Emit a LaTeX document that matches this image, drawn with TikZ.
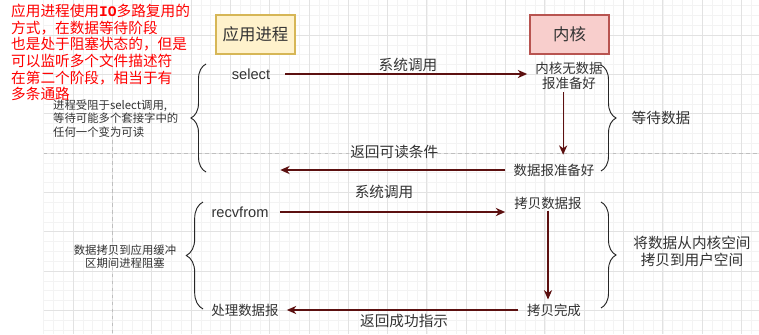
\documentclass[tikz,border=0pt]{standalone}
\usepackage{fontspec}
\setmainfont{Liberation Sans}
\newfontfamily\cjk{Noto Sans CJK SC}
\newfontfamily\monofnt{Liberation Mono}
\usetikzlibrary{arrows.meta,decorations.pathreplacing}
\definecolor{gridmin}{HTML}{F3F3F3}
\definecolor{gridmaj}{HTML}{E2E2E2}
\definecolor{arrowred}{HTML}{5C1010}
\definecolor{txtgray}{HTML}{333333}
\definecolor{appfill}{HTML}{FFF2CC}
\definecolor{appline}{HTML}{D6B656}
\definecolor{kernfill}{HTML}{F8CECC}
\definecolor{kernline}{HTML}{B85450}
\tikzset{
  box/.style={draw, line width=0.9pt, minimum width=2.37cm, minimum height=1.17cm,
    font=\cjk\fontsize{14}{16}\selectfont, text=txtgray},
  txt/.style={inner sep=0pt, text=txtgray, align=center, font=\cjk\fontsize{11.5}{12.75}\selectfont},
  big/.style={txt, font=\cjk\fontsize{12.5}{14.5}\selectfont},
  small/.style={txt, font=\cjk\fontsize{9.7}{11.5}\selectfont},
  call/.style={txt, font=\fontsize{12.5}{14}\selectfont},
  arr/.style={draw=arrowred, line width=1pt, -{Stealth[length=8pt,width=7pt,inset=2.5pt]}},
  brc/.style={decorate, decoration={brace, amplitude=#1}, line width=0.8pt, draw=black!85},
  dashline/.style={draw=black!25, dashed, line width=0.5pt},
}
\begin{document}
\begin{tikzpicture}[x=0.03cm,y=-0.03cm]
\useasboundingbox (0,0) rectangle (759,334);
\fill[white] (0,0) rectangle (759,334);
% grid
\foreach \i in {-3,...,69} \draw[gridmin, line width=0.4pt] ({73+9.83*\i},0) -- ({73+9.83*\i},334);
\foreach \j in {-15,...,18} \draw[gridmin, line width=0.4pt] (43.5,{153+9.83*\j}) -- (759,{153+9.83*\j});
\foreach \i in {0,...,17} \draw[gridmaj, line width=0.5pt] ({73+39.3*\i},0) -- ({73+39.3*\i},334);
\foreach \j in {-3,...,4} \draw[gridmaj, line width=0.5pt] (43.5,{153+39.3*\j}) -- (759,{153+39.3*\j});
\draw[dashline] (43.5,153) -- (759,153);
\draw[dashline] (112.3,140) -- (112.3,334);
% note
\node[anchor=north west, inner sep=0pt, align=left, text=red, font=\cjk\fontsize{12.5}{14.2}\selectfont] (note) at (11,4)
  {应用进程使用{\monofnt\bfseries IO}多路复用的\\方式，在数据等待阶段\\也是处于阻塞状态的，但是\\可以监听多个文件描述符\\在第二个阶段，相当于有\\多条通路};
% heads
\node[box, fill=appfill, draw=appline] (app) at (255.5,34.5) {应用进程};
\node[box, fill=kernfill, draw=kernline] (kern) at (569.5,34.5) {内核};
% wait phase
\node[call] (sel) at (251,74) {select};
\node[txt] (nodata) at (569,75.5) {内核无数据\\报准备好};
\node[txt] (ready) at (554,170) {数据报准备好};
\node[big] (wait) at (661,118) {等待数据};
\node[small, align=left, anchor=west] (blk) at (53,118.5) {进程受阻于select调用,\\等待可能多个套接字中的\\任何一个变为可读};
\draw[arr, shorten <=12.75pt, shorten >=6.8pt] (sel.east) -- (sel.east -| nodata.west)
  node[pos=0.52, above=1.8pt, big] (call1) {系统调用};
\draw[arr, shorten <=2.5pt, shorten >=7.5pt] ([xshift=-5pt]nodata.south) -- ([xshift=-5pt]nodata.south |- ready.north);
\draw[arr, shorten <=6.8pt, shorten >=8.5pt] (ready.west) -- (ready.west -| sel.east)
  node[pos=0.49, above=9.4pt, big] (ret1) {返回可读条件};
\draw[brc=0.45cm] (206,172) -- (206,64);
\draw[brc=0.45cm] (601,65) -- (601,171);
% copy phase
\node[call] (rcv) at (240,212) {recvfrom};
\node[txt] (copy) at (548,203) {拷贝数据报};
\node[txt] (done) at (554,310) {拷贝完成};
\node[txt] (proc) at (245,310) {处理数据报};
\node[small] (cpblk) at (125,256.5) {数据拷贝到应用缓冲\\区期间进程阻塞};
\node[big] (k2u) at (692,251.5) {将数据从内核空间\\拷贝到用户空间};
\draw[arr, shorten <=9.8pt, shorten >=7.6pt] (rcv.east) -- (rcv.east -| copy.west)
  node[pos=0.47, above=11pt, big] (call2) {系统调用};
\draw[arr, shorten <=1pt, shorten >=3.4pt] (copy.south) -- (copy.south |- done.north);
\draw[arr, shorten <=7.2pt, shorten >=6.8pt] (done.west) -- (proc.east)
  node[pos=0.495, below=3.5pt, big] (ret2) {返回成功指示};
\draw[brc=0.5cm] (203,309) -- (203,202);
\draw[brc=0.45cm] (601,202) -- (601,308);
\end{tikzpicture}
\end{document}
